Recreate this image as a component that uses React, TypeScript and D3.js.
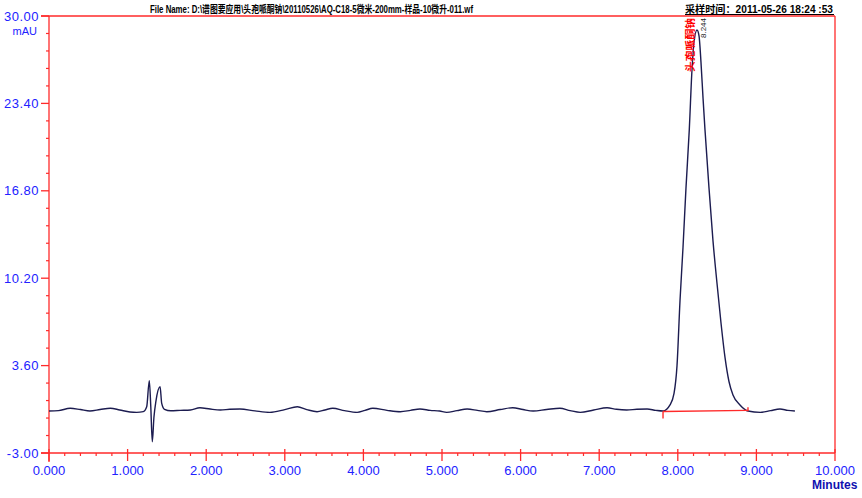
import React from "react";
import * as d3 from "d3";

// ---- data ----
const times = [
  0.0, 0.12, 0.27, 0.4, 0.52, 0.65, 0.78, 0.9, 1.03, 1.115, 1.2, 1.243, 1.276, 1.295, 1.314, 1.335, 1.36, 1.413, 1.434,
  1.47, 1.55, 1.67, 1.8, 1.92, 2.05, 2.18, 2.3, 2.43, 2.62, 2.81, 3.0, 3.16, 3.28, 3.41, 3.51, 3.61, 3.76, 3.92, 4.02,
  4.12, 4.3, 4.47, 4.6, 4.72, 4.85, 4.97, 5.06, 5.19, 5.32, 5.45, 5.57, 5.74, 5.9, 6.03, 6.16, 6.33, 6.5, 6.63, 6.76,
  6.93, 7.1, 7.22, 7.35, 7.48, 7.61, 7.72, 7.812, 7.901, 7.952, 7.99, 8.028, 8.066, 8.104, 8.146, 8.181, 8.206, 8.244,
  8.27, 8.295, 8.321, 8.346, 8.397, 8.448, 8.499, 8.55, 8.601, 8.651, 8.702, 8.791, 8.893, 9.05, 9.18, 9.3, 9.4, 9.49,
];
const values = [
  0.17, 0.2, 0.38, 0.28, 0.17, 0.28, 0.38, 0.25, 0.1, 0.07, 0.12, 0.49, 2.46, 0.5, -2.15, -0.3, 0.9, 2.0, 0.75,
  0.3, 0.19, 0.22, 0.25, 0.42, 0.32, 0.25, 0.3, 0.32, 0.18, 0.07, 0.28, 0.49, 0.28, 0.12, 0.25, 0.38, 0.2, 0.07, 0.22,
  0.38, 0.22, 0.12, 0.22, 0.32, 0.22, 0.17, 0.07, 0.2, 0.32, 0.22, 0.12, 0.28, 0.42, 0.28, 0.17, 0.28, 0.38, 0.2, 0.07,
  0.25, 0.42, 0.3, 0.25, 0.3, 0.32, 0.22, 0.17, 0.63, 1.5, 3.6, 8.5, 12.5, 17, 21.4, 26, 28, 28.94,
  28.5, 26.5, 23.8, 21.4, 17, 13, 9.8, 6.8, 4.2, 2.4, 1.38, 0.63, 0.17, 0.07, 0.2, 0.32, 0.22, 0.17,
];
const xMajorTicks = [0, 1, 2, 3, 4, 5, 6, 7, 8, 9, 10];
const yMajorTicks = [-3, 3.6, 10.2, 16.8, 23.4, 30];
const integStart = [7.812, 0.13];
const integEnd = [8.893, 0.22];
const peakName = "头孢哌酮钠";
const peakRT = "8.244";
const fileNameText = "File Name: D:\\谱图要应用\\头孢哌酮钠\\20110526\\AQ-C18-5微米-200mm-样品-10微升-011.wf";
const timeText = "采样时间：2011-05-26 18:24 :53";
const yUnit = "mAU";
const xUnit = "Minutes";

export default function App() {
  const W = 862, H = 498;
  const x = d3.scaleLinear().domain([0, 10]).range([49, 835]);
  const y = d3.scaleLinear().domain([-3, 30]).range([453, 16]);
  const red = "#ff2a2a";
  const blue = "#2222ff";
  const pts: [number, number][] = times.map((t, i) => [t, values[i]]);
  const line = d3
    .line<[number, number]>()
    .x((d) => x(d[0]))
    .y((d) => y(d[1]))
    .curve(d3.curveMonotoneX);

  const xMinor: number[] = [];
  for (let i = 0; i < xMajorTicks.length - 1; i++) {
    const a = xMajorTicks[i], b = xMajorTicks[i + 1];
    for (let k = 1; k < 5; k++) xMinor.push(a + ((b - a) * k) / 5);
  }
  const yMinor: number[] = [];
  for (let i = 0; i < yMajorTicks.length - 1; i++) {
    const a = yMajorTicks[i], b = yMajorTicks[i + 1];
    for (let k = 1; k < 5; k++) yMinor.push(a + ((b - a) * k) / 5);
  }
  const x0 = x(0), x1 = x(10), yTop = y(30), yBot = y(-3);
  const font = "'Liberation Sans', Arial, sans-serif";
  const cjk = "'Liberation Sans', 'Noto Sans CJK SC', sans-serif";
  const sx = x(integStart[0]), sy = y(integStart[1]);
  const ex = x(integEnd[0]), ey = y(integEnd[1]);

  return (
    <svg
      width={W}
      height={H}
      style={{ position: "absolute", left: 0, top: 0, display: "block", background: "#fff" }}
    >
      {/* header */}
      <text x={150} y={12.5} fontFamily={cjk} fontSize={10} fontWeight="bold" fill="#000" textLength={323} lengthAdjust="spacingAndGlyphs">
        {fileNameText}
      </text>
      <text x={685} y={12.5} fontFamily={cjk} fontSize={10} fontWeight="bold" fill="#000" textLength={148} lengthAdjust="spacingAndGlyphs">
        {timeText}
      </text>
      <line x1={685} x2={834} y1={14.5} y2={14.5} stroke="#000" strokeWidth={1} />

      {/* frame */}
      <line x1={x0 - 8} x2={x1} y1={yTop} y2={yTop} stroke={red} strokeWidth={1.3} />
      <line x1={x1} x2={x1} y1={yTop} y2={yBot} stroke={red} strokeWidth={1.3} />
      <line x1={x0 - 8} x2={x1} y1={yBot} y2={yBot} stroke={red} strokeWidth={1.3} />
      <line x1={x0} x2={x0} y1={yTop} y2={yBot + 9} stroke={red} strokeWidth={1.3} />

      {/* y ticks */}
      {yMinor.map((v, i) => (
        <line key={"ym" + i} x1={x0 - 3} x2={x0} y1={y(v)} y2={y(v)} stroke={red} strokeWidth={1.2} />
      ))}
      {yMajorTicks.map((v) => (
        <g key={"yM" + v}>
          <line x1={x0 - 8} x2={x0} y1={y(v)} y2={y(v)} stroke={red} strokeWidth={1.3} />
          <text x={39} y={y(v)} dy="0.36em" textAnchor="end" fontFamily={font} fontSize={13} letterSpacing={0.5} fill={blue}>
            {v.toFixed(2)}
          </text>
        </g>
      ))}
      <text x={37} y={35} textAnchor="end" fontFamily={font} fontSize={11} fill={blue}>
        {yUnit}
      </text>

      {/* x ticks */}
      {xMinor.map((v, i) => (
        <line key={"xm" + i} x1={x(v)} x2={x(v)} y1={yBot} y2={yBot + 3} stroke={red} strokeWidth={1.2} />
      ))}
      {xMajorTicks.map((v) => (
        <g key={"xM" + v}>
          <line x1={x(v)} x2={x(v)} y1={yBot - 4} y2={yBot + 8} stroke={red} strokeWidth={1.3} />
          <text x={x(v)} y={475} textAnchor="middle" fontFamily={font} fontSize={13} fill={blue}>
            {v.toFixed(3)}
          </text>
        </g>
      ))}
      <text x={812} y={489} fontFamily={font} fontSize={12} fontWeight="bold" fill="#1010b0">
        {xUnit}
      </text>

      {/* trace */}
      <path d={line(pts) || ""} fill="none" stroke="#1c1c50" strokeWidth={1.4} strokeLinejoin="round" />

      {/* integration baseline */}
      <line x1={sx} x2={ex} y1={sy} y2={ey} stroke={red} strokeWidth={1.4} />
      <line x1={sx} x2={sx} y1={sy} y2={sy + 7} stroke={red} strokeWidth={1.4} />
      <line x1={ex} x2={ex} y1={ey - 3} y2={ey + 1} stroke={red} strokeWidth={1.4} />

      {/* peak labels */}
      <text
        transform={`translate(${x(8.244) - 3},72) rotate(-90)`}
        fontFamily={cjk}
        fontSize={10}
        fontWeight="bold"
        fill="#ff0000"
        textLength={54}
        lengthAdjust="spacingAndGlyphs"
      >
        {peakName}
      </text>
      <text
        transform={`translate(${x(8.244) + 9},38) rotate(-90)`}
        fontFamily={font}
        fontSize={7}
        fill="#222"
        textLength={20}
        lengthAdjust="spacingAndGlyphs"
      >
        {peakRT}
      </text>
    </svg>
  );
}
